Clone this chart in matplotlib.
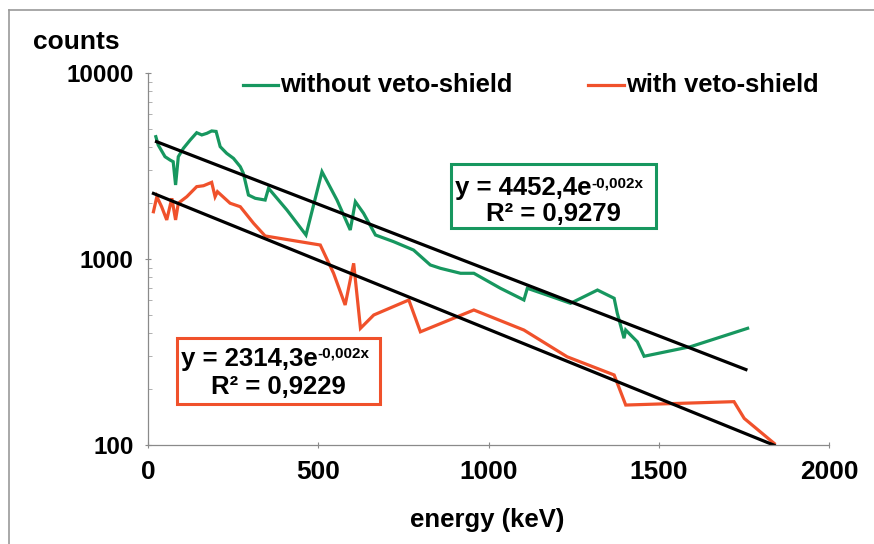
import matplotlib
matplotlib.use("Agg")
import matplotlib.pyplot as plt
from matplotlib.lines import Line2D
from matplotlib.patches import Rectangle
from matplotlib.text import Annotation
from matplotlib.ticker import NullFormatter
import numpy as np

plt.rcParams['font.family'] = ['Liberation Sans', 'DejaVu Sans']
plt.rcParams['font.weight'] = 'bold'

# spectrum without the veto shield
energy_open = [23, 30, 50, 65, 74, 81, 89, 104, 124, 143, 158, 173, 187, 200, 212,
               231, 251, 271, 280, 295, 315, 344, 354, 408, 464, 511, 555, 594, 609,
               633, 668, 721, 780, 829, 859, 918, 957, 1035, 1104, 1114, 1172, 1241,
               1271, 1320, 1369, 1378, 1398, 1403, 1437, 1457, 1594, 1761]
counts_open = [4546, 4100, 3548, 3404, 3334, 2500, 3548, 3937, 4365, 4775, 4645, 4740,
               4880, 4850, 4018, 3700, 3477, 3135, 2890, 2208, 2120, 2075, 2400, 1834,
               1346, 2946, 2075, 1432, 2032, 1762, 1346, 1240, 1117, 929, 891, 838, 838,
               696, 602, 696, 640, 578, 615, 681, 615, 513, 375, 415, 359, 300, 338, 424]

# spectrum with the veto shield
energy_veto = [16, 26, 40, 55, 70, 81, 89, 114, 143, 163, 187, 197, 204, 241, 271,
               310, 344, 506, 545, 579, 604, 624, 663, 766, 800, 957, 1104, 1231,
               1369, 1403, 1721, 1751, 1839]
counts_veto = [1795, 2163, 1910, 1622, 2120, 1622, 1995, 2163, 2449, 2477, 2583, 2163,
               2301, 1995, 1910, 1556, 1330, 1189, 838, 566, 948, 424, 500, 602, 406,
               532, 415, 298, 238, 164, 171, 139, 102]

# exponential trend lines  y = a * exp(-k x)
fit_open_a, fit_open_k, fit_open_r2 = 4452.4, 0.00163, 0.9279
fit_veto_a, fit_veto_k, fit_veto_r2 = 2314.3, 0.00171, 0.9229

x_ticks = [0, 500, 1000, 1500, 2000]
y_ticks = [100, 1000, 10000]

green = '#17975f'
red = '#f0512b'
W, H = 874, 544

fig = plt.figure(figsize=(W / 100, H / 100), dpi=100)


def px(x, y):
    return x / W, 1 - y / H


ax = fig.add_axes([148 / W, 1 - 445 / H, (829 - 148) / W, (445 - 73) / H])
ax.set_yscale('log')
ax.set_xlim(0, 2000)
ax.set_ylim(100, 10000)

ax.plot(energy_open, counts_open, color=green, lw=2.3, solid_joinstyle='miter')
ax.plot(energy_veto, counts_veto, color=red, lw=2.3, solid_joinstyle='miter')

xf = np.linspace(25, 1756, 50)
ax.plot(xf, fit_open_a * np.exp(-fit_open_k * xf), color='black', lw=2.3)
xf = np.linspace(16, 1839, 50)
ax.plot(xf, fit_veto_a * np.exp(-fit_veto_k * xf), color='black', lw=2.3)

for side in ['top', 'right']:
    ax.spines[side].set_visible(False)
for side in ['left', 'bottom']:
    ax.spines[side].set_color('#8a8a8a')
    ax.spines[side].set_linewidth(0.9)

ax.set_xticks(x_ticks)
ax.set_xticklabels([str(v) for v in x_ticks])
ax.set_yticks(y_ticks)
ax.set_yticklabels([str(v) for v in y_ticks])
ax.tick_params(axis='both', which='major', colors='#8a8a8a', labelcolor='black',
               direction='inout', length=5, width=0.8)
ax.tick_params(axis='x', labelsize=19, pad=8)
ax.tick_params(axis='y', labelsize=17.5, pad=8)
ax.tick_params(axis='y', which='minor', colors='#b0b0b0', direction='in', length=3, width=0.7)
ax.yaxis.set_minor_formatter(NullFormatter())

fig.text(*px(33, 42), 'counts', fontsize=19, ha='left', va='center')
fig.text(*px(487, 520), 'energy (keV)', fontsize=18.5, ha='center', va='center')

# legend drawn along the top of the plot
for (x0, x1, y), col, label in [((243, 278, 85), green, 'without veto-shield'),
                                ((588, 624, 85), red, 'with veto-shield')]:
    fig.add_artist(Line2D([x0 / W, x1 / W], [1 - y / H] * 2, color=col, lw=2.3))
    fig.text(*px(x1 + 2, y), label, fontsize=18.4, ha='left', va='center')


def equation_box(rect, col, a, k, r2, line1_x, line1_y, line2_x, line2_y):
    x0, y0, x1, y1 = rect
    fig.add_artist(Rectangle(px(x0, y1), (x1 - x0) / W, (y1 - y0) / H,
                             transform=fig.transFigure, facecolor='white',
                             edgecolor=col, lw=2.2))
    base = fig.text(*px(line1_x, line1_y), 'y = ' + f'{a:.1f}'.replace('.', ',') + 'e',
                    fontsize=18.5, ha='left', va='center')
    sup = '-' + f'{k:.3f}'.replace('.', ',') + 'x'
    fig.add_artist(Annotation(sup, xy=(1.0, 1.0), xycoords=base,
                              fontsize=11, ha='left', va='top'))
    fig.text(*px(line2_x, line2_y), 'R² = ' + f'{r2:.4f}'.replace('.', ','),
             fontsize=18.5, ha='center', va='center')


equation_box((451, 164, 656, 228), green, fit_open_a, fit_open_k, fit_open_r2,
             455, 188, 553, 214)
equation_box((177, 338, 380, 404), red, fit_veto_a, fit_veto_k, fit_veto_r2,
             181, 359, 278, 387)

# thin frame around the figure
fig.add_artist(Line2D([9 / W, 9 / W], [0, 1 - 10 / H], color='#9a9a9a', lw=1.2))
fig.add_artist(Line2D([9 / W, 1], [1 - 10 / H] * 2, color='#9a9a9a', lw=1.2))

fig.savefig('out.png', dpi=100)
